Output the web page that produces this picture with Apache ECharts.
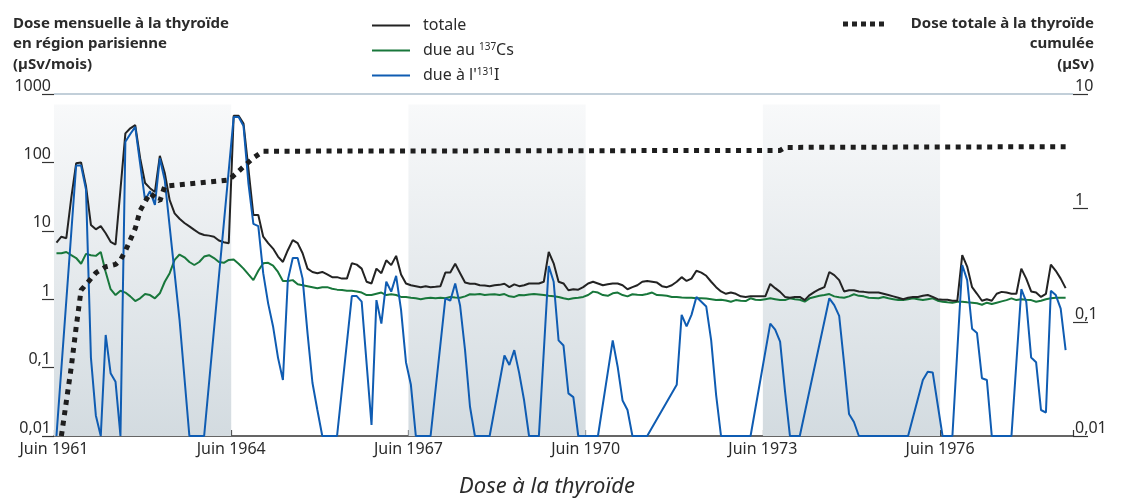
<!DOCTYPE html>
<html lang="fr">
<head>
<meta charset="UTF-8">
<title>Dose à la thyroïde</title>
<script src="https://cdn.jsdelivr.net/npm/echarts@6/dist/echarts.min.js"></script>
<style>
    html, body { margin: 0; padding: 0; background: #fff; }
    #chart { width: 1121px; height: 500px; }
</style>
</head>
<body>
<div id="chart"></div>
<script>
    // months are counted from June 1961 (index 0 = juin 1961)
    var firstYear = 1961;
    var tickYears = [1961, 1964, 1967, 1970, 1973, 1976];
    var shadedPeriods = [[1961, 1964], [1967, 1970], [1973, 1976]];

    // monthly dose to the thyroid, µSv/mois
    var doseTotale = [
        6.7, 8.2, 7.8, 30, 97, 100, 45, 12.2, 10.5, 11.7,
        9.2, 6.9, 6.3, 40, 266, 315, 350, 115, 50, 42,
        37, 125, 70, 28, 18, 15, 13, 11.6, 10.3, 9.2,
        8.7, 8.5, 8.2, 7.2, 6.8, 6.6, 480, 480, 370, 80,
        17, 17, 8.2, 6.6, 5.5, 4.2, 3.5, 5.2, 7.3, 6.6,
        4.7, 2.8, 2.5, 2.4, 2.5, 2.3, 2.1, 2.1, 2.0, 2.0,
        3.35, 3.2, 2.8, 1.8, 1.7, 2.8, 2.4, 3.7, 3.15, 4.3,
        2.3, 1.7, 1.6, 1.55, 1.5, 1.55, 1.5, 1.52, 1.55, 2.45,
        2.45, 3.3, 2.4, 1.75, 1.68, 1.68, 1.6, 1.58, 1.55, 1.6,
        1.62, 1.68, 1.5, 1.65, 1.55, 1.6, 1.7, 1.7, 1.7, 1.8,
        4.9, 3.35, 1.8, 1.7, 1.35, 1.4, 1.38, 1.5, 1.7, 1.8,
        1.7, 1.6, 1.65, 1.7, 1.7, 1.6, 1.4, 1.5, 1.6, 1.8,
        1.85, 1.8, 1.75, 1.55, 1.5, 1.6, 1.8, 2.1, 1.85, 2.0,
        2.6, 2.45, 2.2, 1.8, 1.5, 1.3, 1.2, 1.25, 1.2, 1.1,
        1.08, 1.1, 1.1, 1.1, 1.1, 1.67, 1.45, 1.28, 1.08, 1.05,
        1.08, 1.08, 0.97, 1.15, 1.28, 1.4, 1.5, 2.5, 2.25, 1.9,
        1.3, 1.35, 1.35, 1.3, 1.28, 1.25, 1.25, 1.25, 1.2, 1.15,
        1.1, 1.05, 1.0, 1.05, 1.08, 1.08, 1.12, 1.15, 1.08, 1.0,
        0.98, 0.98, 0.95, 0.95, 4.4, 3.0, 1.5, 1.2, 0.95, 1.0,
        0.95, 1.2, 1.28, 1.25, 1.2, 1.2, 2.8, 2.0, 1.3, 1.25,
        1.08, 1.2, 3.2, 2.6, 2.0, 1.45
    ];

    var doseCesium = [
        4.7, 4.7, 4.9, 4.4, 4.0, 3.3, 4.6, 4.4, 4.3, 4.9,
        2.5, 1.4, 1.15, 1.33, 1.25, 1.1, 0.94, 1.03, 1.19, 1.15,
        1.03, 1.22, 1.8, 2.4, 3.75, 4.5, 4.1, 3.5, 3.16, 3.5,
        4.2, 4.4, 4.0, 3.5, 3.4, 3.75, 3.8, 3.3, 2.8, 2.3,
        1.9, 2.6, 3.35, 3.4, 3.1, 2.5, 1.85, 1.85, 1.9, 1.65,
        1.6, 1.55, 1.5, 1.45, 1.5, 1.5, 1.42, 1.38, 1.36, 1.33,
        1.33, 1.3, 1.25, 1.15, 1.15, 1.2, 1.25, 1.15, 1.18, 1.15,
        1.08, 1.08, 1.05, 1.03, 1.0, 1.03, 1.05, 1.03, 1.05, 1.03,
        1.08, 1.06, 1.05, 1.1, 1.18, 1.17, 1.19, 1.15, 1.17, 1.18,
        1.15, 1.19, 1.1, 1.08, 1.15, 1.14, 1.17, 1.19, 1.17, 1.15,
        1.12, 1.1, 1.08, 1.03, 1.0, 1.03, 1.05, 1.08, 1.15, 1.29,
        1.25, 1.15, 1.12, 1.22, 1.25, 1.15, 1.1, 1.18, 1.16, 1.15,
        1.19, 1.25, 1.15, 1.14, 1.12, 1.08, 1.08, 1.06, 1.05, 1.05,
        1.03, 1.03, 1.02, 1.0, 0.97, 0.98, 0.96, 0.92, 0.97, 0.95,
        0.94, 1.03, 0.98, 0.97, 1.0, 1.03, 1.0, 0.97, 0.97, 1.03,
        1.0, 0.98, 0.92, 1.03, 1.08, 1.12, 1.15, 1.19, 1.1, 1.07,
        1.05, 1.1, 1.18, 1.12, 1.1, 1.05, 1.04, 1.03, 1.08, 1.03,
        1.0, 0.97, 0.97, 1.0, 1.03, 1.0, 0.97, 1.0, 1.03, 0.95,
        0.92, 0.9, 0.89, 0.92, 0.92, 0.9, 0.89, 0.87, 0.83, 0.89,
        0.85, 0.89, 0.93, 0.97, 1.03, 0.97, 1.0, 0.98, 0.97, 0.92,
        0.95, 1.0, 1.03, 1.05, 1.05, 1.05
    ];

    // null = month not drawn as a vertex (the line runs straight across)
    var doseIode = [
        0.01, null, null, null, 90, 90, 40, 0.14, 0.02, 0.01,
        0.3, 0.083, 0.062, 0.01, 200, 260, 330, 95, 28, 38,
        24, 115, 55, null, null, 0.5, null, 0.01, null, null,
        0.01, null, null, null, null, null, 460, 460, 340, 49,
        12.6, 11.7, 2.4, 0.87, 0.4, 0.14, 0.066, 1.9, 4.0, 4.0,
        2.0, 0.32, 0.06, 0.024, 0.01, null, null, 0.01, null, null,
        1.11, 1.11, 0.92, null, 0.0145, 0.97, 0.44, 1.8, 1.29, 2.2,
        0.7, 0.12, 0.056, 0.01, null, null, 0.01, null, null, 1.03,
        0.95, 1.7, 0.8, 0.18, 0.027, 0.01, null, null, 0.01, null,
        null, 0.15, 0.109, 0.18, 0.083, 0.033, 0.01, null, 0.01, null,
        3.05, 1.8, 0.25, 0.21, 0.042, 0.037, 0.01, null, null, null,
        0.01, null, null, 0.25, 0.103, 0.033, 0.024, 0.01, null, null,
        0.01, null, null, null, null, null, 0.056, 0.59, 0.4, 0.59,
        1.08, 0.92, 0.78, 0.25, 0.04, 0.01, null, null, null, null,
        null, 0.01, null, null, null, 0.44, 0.36, 0.24, 0.045, 0.01,
        null, 0.01, null, null, null, null, null, 1.03, 0.82, 0.57,
        0.115, 0.021, 0.016, 0.01, null, null, null, null, null, null,
        null, null, null, 0.01, null, null, 0.066, 0.087, 0.085, null,
        0.01, null, 0.01, null, 3.16, 1.9, 0.37, 0.32, 0.07, 0.066,
        0.01, null, null, null, 0.01, null, 1.4, 0.92, 0.14, 0.12,
        0.024, 0.022, 1.33, 1.15, 0.73, 0.18
    ];

    // cumulative dose, µSv (right axis)
    var doseCumulee = [
        null, 0.01, 0.02, 0.04, 0.09, 0.19, null, 0.24, 0.27, null,
        0.305, null, 0.32, 0.35, 0.42, null, 0.66, 0.95, null, 1.35,
        null, 1.15, 1.55, null, null, null, null, null, null, null,
        null, null, null, null, null, 1.76, null, null, 2.3, null,
        2.75, null, 3.15
    ];
    doseCumulee[147] = 3.2;
    doseCumulee[148] = 3.4;
    doseCumulee[205] = 3.45;

    var leftTicks = ['0,01', '0,1', '1', '10', '100', '1000'];
    var rightTicks = ['0,01', '0,1', '1', '10'];

    var fontFamily = 'Noto Sans';
    var textColor = '#2b2b2b';

    function toPoints(values) {
        var pts = [];
        for (var i = 0; i < values.length; i++) {
            if (values[i] !== null && values[i] !== undefined) {
                pts.push([i + 0.5, values[i]]);
            }
        }
        return pts;
    }

    function logLabel(ticks) {
        return function (v) {
            var k = Math.round(Math.log(v) / Math.LN10) + 2;
            return ticks[k] || '';
        };
    }

    var bandFill = {
        type: 'linear', x: 0, y: 0, x2: 0, y2: 1,
        colorStops: [
            {offset: 0, color: '#f8f9fa'},
            {offset: 1, color: '#d3dbe0'}
        ]
    };

    var bands = shadedPeriods.map(function (p) {
        return [
            {xAxis: (p[0] - firstYear) * 12, yAxis: 0.01},
            {xAxis: (p[1] - firstYear) * 12, yAxis: 700}
        ];
    });

    var legendNames = {
        totale: '{n|totale}',
        cesium: '{n|due au }{sup|137}{n|Cs}',
        iode: "{n|due à l'}{sup|131}{n|I}"
    };

    var chart = echarts.init(document.getElementById('chart'));

    var option = {
        animation: false,
        grid: {left: 54, right: 48, top: 94, bottom: 64},
        legend: {
            data: ['totale', 'cesium', 'iode'],
            orient: 'vertical',
            left: 367,
            top: 12,
            icon: 'rect',
            itemWidth: 38,
            itemHeight: 2,
            itemGap: 8,
            selectedMode: false,
            formatter: function (name) { return legendNames[name]; },
            textStyle: {
                color: textColor, fontFamily: fontFamily, fontSize: 16, lineHeight: 17,
                padding: [0, 0, 0, 8],
                rich: {
                    n: {fontSize: 16, lineHeight: 17, fontFamily: fontFamily, color: textColor},
                    sup: {fontSize: 10, lineHeight: 17, verticalAlign: 'top', fontFamily: fontFamily, color: textColor}
                }
            }
        },
        xAxis: {
            type: 'value',
            min: 0,
            max: 207,
            interval: 36,
            axisLine: {show: true, lineStyle: {color: '#333', width: 1.5}},
            axisTick: {show: true, inside: true, length: 6, lineStyle: {color: '#333', width: 1.2}},
            axisLabel: {
                color: textColor, fontFamily: fontFamily, fontSize: 16, margin: 5,
                formatter: function (v) {
                    return v % 36 === 0 ? 'Juin ' + (firstYear + v / 12) : '';
                }
            },
            splitLine: {show: false}
        },
        yAxis: [
            {
                type: 'log', logBase: 10, min: 0.01, max: 1000, position: 'left',
                axisLine: {show: false},
                axisTick: {show: true, length: 12, lineStyle: {color: '#333', width: 1.2}},
                axisLabel: {
                    color: textColor, fontFamily: fontFamily, fontSize: 16, margin: 3,
                    verticalAlign: 'bottom', lineHeight: 16, formatter: logLabel(leftTicks)
                },
                splitLine: {
                    show: true,
                    lineStyle: {
                        width: 1.5,
                        color: ['rgba(0,0,0,0)', 'rgba(0,0,0,0)', 'rgba(0,0,0,0)',
                                'rgba(0,0,0,0)', 'rgba(0,0,0,0)', '#aebfcd']
                    }
                }
            },
            {
                type: 'log', logBase: 10, min: 0.01, max: 10, position: 'right',
                axisLine: {show: false},
                axisTick: {show: true, length: 15, lineStyle: {color: '#333', width: 1.2}},
                axisLabel: {
                    color: textColor, fontFamily: fontFamily, fontSize: 16, margin: 2,
                    verticalAlign: 'bottom', lineHeight: 16, formatter: logLabel(rightTicks)
                },
                splitLine: {show: false}
            }
        ],
        graphic: [
            {
                type: 'text', x: 13, y: 13, silent: true,
                style: {
                    text: 'Dose mensuelle à la thyroïde\nen région parisienne\n(µSv/mois)',
                    font: 'bold 15px "Noto Sans"', lineHeight: 20.5, fill: textColor
                }
            },
            {
                type: 'line', silent: true,
                shape: {x1: 843, y1: 24, x2: 886, y2: 24},
                style: {stroke: '#222', lineWidth: 5, lineDash: [5, 4]}
            },
            {
                type: 'text', x: 1094, y: 13, silent: true,
                style: {
                    text: 'Dose totale à la thyroïde\ncumulée\n(µSv)',
                    font: 'bold 15px "Noto Sans"', lineHeight: 20.5, fill: textColor,
                    align: 'right', textAlign: 'right'
                }
            },
            {
                type: 'text', x: 547, y: 487, silent: true,
                style: {
                    text: 'Dose à la thyroïde',
                    font: 'italic 22px "Noto Sans"', fill: textColor,
                    align: 'center', textAlign: 'center',
                    verticalAlign: 'middle', textVerticalAlign: 'middle'
                }
            }
        ],
        series: [
            {
                name: 'cesium',
                type: 'line',
                yAxisIndex: 0,
                data: toPoints(doseCesium),
                showSymbol: false,
                lineStyle: {color: '#18773b', width: 2},
                itemStyle: {color: '#18773b'},
                z: 2,
                markArea: {
                    silent: true,
                    itemStyle: {color: bandFill},
                    label: {show: false},
                    data: bands
                }
            },
            {
                name: 'totale',
                type: 'line',
                yAxisIndex: 0,
                data: toPoints(doseTotale),
                showSymbol: false,
                lineStyle: {color: '#232323', width: 2},
                itemStyle: {color: '#232323'},
                z: 3
            },
            {
                name: 'iode',
                type: 'line',
                yAxisIndex: 0,
                data: toPoints(doseIode),
                showSymbol: false,
                lineStyle: {color: '#0f5cb2', width: 2},
                itemStyle: {color: '#0f5cb2'},
                z: 4
            },
            {
                name: 'cumulee',
                type: 'line',
                yAxisIndex: 1,
                data: toPoints(doseCumulee),
                showSymbol: false,
                lineStyle: {color: '#1e1e1e', width: 5, type: [5, 5.5], cap: 'butt'},
                itemStyle: {color: '#1e1e1e'},
                z: 5
            }
        ]
    };

    chart.setOption(option);
</script>
</body>
</html>
